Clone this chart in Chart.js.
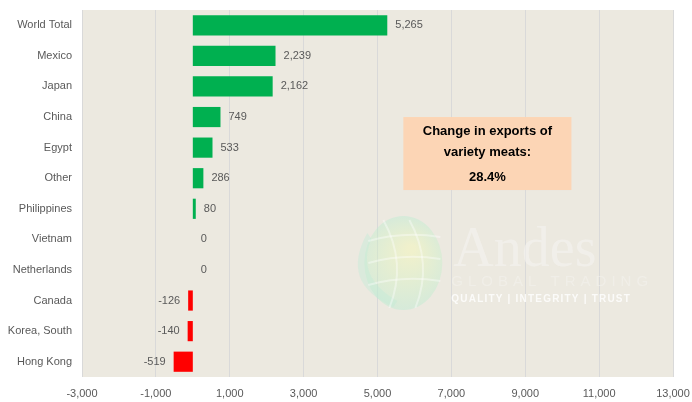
<!DOCTYPE html>
<html>
<head>
<meta charset="utf-8">
<script src="https://cdn.jsdelivr.net/npm/chart.js@4"></script>
<style>
  html, body { margin: 0; padding: 0; background: #fff; }
  #wrap { width: 692px; height: 402px; position: relative; }
</style>
</head>
<body>
<div id="wrap"><canvas id="chart"></canvas></div>
<script>
const CATEGORIES = [
  "World Total", "Mexico", "Japan", "China", "Egypt", "Other",
  "Philippines", "Vietnam", "Netherlands", "Canada", "Korea, South", "Hong Kong",
];
const CHANGE = [5265, 2239, 2162, 749, 533, 286, 80, 0, 0, -126, -140, -519];
const X_TICKS = [-3000, -1000, 1000, 3000, 5000, 7000, 9000, 11000, 13000];
const NOTE_LINES = ["Change in exports of", "variety meats:", "28.4%"];

const GREEN = "#00b050";
const RED = "#ff0000";
const TEXT = "#595959";
const FONT = "'Liberation Sans', Arial, sans-serif";
const NUM = new Intl.NumberFormat("en-US", { maximumFractionDigits: 0 });

const plotBg = {
  id: "plotBg",
  beforeDraw(chart) {
    const { ctx, chartArea: a } = chart;
    ctx.save();
    ctx.fillStyle = "#ece9e0";
    ctx.fillRect(a.left, a.top, a.right - a.left, a.bottom - a.top);
    ctx.restore();
  },
};

// faint company watermark, drawn over the grid and under the bars
const watermark = {
  id: "watermark",
  beforeDatasetsDraw(chart) {
    const { ctx } = chart;
    const x = chart.scales.x;
    const cx = x.getPixelForValue(5700);
    const cy = 263;
    const r = 39;
    ctx.save();
    ctx.globalAlpha = 0.4;
    const g = ctx.createRadialGradient(cx + 8, cy - 14, 4, cx, cy, r + 8);
    g.addColorStop(0, "#f6fcae");
    g.addColorStop(1, "#b4ecd0");
    ctx.fillStyle = g;
    ctx.beginPath();
    ctx.ellipse(cx, cy, r, r + 8, 0, 0, Math.PI * 2);
    ctx.fill();
    // swoosh on the left
    ctx.fillStyle = "#c0ecd6";
    ctx.beginPath();
    ctx.moveTo(cx - 36, cy - 30);
    ctx.quadraticCurveTo(cx - 64, cy + 20, cx - 10, cy + 44);
    ctx.lineTo(cx - 6, cy + 38);
    ctx.quadraticCurveTo(cx - 48, cy + 14, cx - 32, cy - 24);
    ctx.closePath();
    ctx.fill();
    ctx.strokeStyle = "rgba(255,255,255,0.95)";
    ctx.lineWidth = 2;
    for (const dy of [-22, 0, 22]) {
      ctx.beginPath();
      ctx.moveTo(cx - r + 4, cy + dy);
      ctx.quadraticCurveTo(cx, cy + dy - 10, cx + r - 2, cy + dy - 4);
      ctx.stroke();
    }
    for (const dx of [-14, 12]) {
      ctx.beginPath();
      ctx.moveTo(cx + dx - 6, cy - r - 4);
      ctx.quadraticCurveTo(cx + dx + 18, cy, cx + dx, cy + r + 6);
      ctx.stroke();
    }
    ctx.globalAlpha = 1;
    ctx.fillStyle = "rgba(245,244,240,0.6)";
    ctx.textBaseline = "alphabetic";
    ctx.textAlign = "left";
    ctx.font = "56px 'Liberation Serif', serif";
    ctx.fillText("Andes", cx + 50, 266);
    ctx.font = "15px 'Liberation Sans', sans-serif";
    ctx.letterSpacing = "5px";
    ctx.fillStyle = "rgba(243,242,237,0.6)";
    ctx.fillText("GLOBAL TRADING", cx + 48, 286);
    ctx.font = "bold 10px 'Liberation Sans', sans-serif";
    ctx.letterSpacing = "1.2px";
    ctx.fillStyle = "rgba(255,255,255,0.8)";
    ctx.fillText("QUALITY | INTEGRITY | TRUST", cx + 48, 302);
    ctx.restore();
  },
};

const valueLabels = {
  id: "valueLabels",
  afterDatasetsDraw(chart) {
    const { ctx } = chart;
    const meta = chart.getDatasetMeta(0);
    ctx.save();
    ctx.font = "11px " + FONT;
    ctx.fillStyle = TEXT;
    ctx.textBaseline = "middle";
    meta.data.forEach((bar, i) => {
      const v = CHANGE[i];
      if (v < 0) {
        ctx.textAlign = "right";
        ctx.fillText(NUM.format(v), bar.x - 8, bar.y);
      } else {
        ctx.textAlign = "left";
        ctx.fillText(NUM.format(v), bar.x + 8, bar.y);
      }
    });
    ctx.restore();
  },
};

const noteBox = {
  id: "noteBox",
  afterDraw(chart) {
    const { ctx } = chart;
    const x = chart.scales.x;
    const y = chart.scales.y;
    const left = x.getPixelForValue(5700);
    const right = x.getPixelForValue(10250);
    const top = y.getPixelForValue(3);
    const bottom = top + 73;
    ctx.save();
    ctx.fillStyle = "#fcd5b5";
    ctx.fillRect(left, top, right - left, bottom - top);
    ctx.fillStyle = "#000";
    ctx.font = "bold 13px " + FONT;
    ctx.textAlign = "center";
    ctx.textBaseline = "middle";
    const mid = (left + right) / 2;
    ctx.fillText(NOTE_LINES[0], mid, top + 14);
    ctx.fillText(NOTE_LINES[1], mid, top + 35);
    ctx.fillText(NOTE_LINES[2], mid, top + 60);
    ctx.restore();
  },
};

new Chart(document.getElementById("chart"), {
  type: "bar",
  data: {
    labels: CATEGORIES,
    datasets: [
      {
        data: CHANGE,
        backgroundColor: CHANGE.map((v) => (v < 0 ? RED : GREEN)),
        barPercentage: 0.66,
        categoryPercentage: 1,
      },
    ],
  },
  options: {
    indexAxis: "y",
    responsive: true,
    maintainAspectRatio: false,
    animation: false,
    layout: { padding: { top: 10, right: 19, left: 0, bottom: 0 } },
    plugins: { legend: { display: false }, tooltip: { enabled: false } },
    scales: {
      x: {
        min: -3000,
        max: 13000,
        afterBuildTicks: (s) => (s.ticks = X_TICKS.map((v) => ({ value: v }))),
        afterFit: (s) => {
          s.height = 25;
          s.paddingLeft = 0;
          s.paddingRight = 0;
        },
        grid: { color: "#d9d9d9", drawTicks: false },
        border: { display: false },
        ticks: {
          color: TEXT,
          font: { size: 11, family: FONT },
          padding: 10,
          maxRotation: 0,
          callback: (v) => NUM.format(v),
        },
      },
      y: {
        afterFit: (s) => {
          s.width = 82;
          s.paddingTop = 0;
          s.paddingBottom = 0;
        },
        grid: { display: false, drawTicks: false },
        border: { display: false },
        ticks: {
          color: TEXT,
          font: { size: 11, family: FONT },
          padding: 10,
        },
      },
    },
  },
  plugins: [plotBg, watermark, valueLabels, noteBox],
});
</script>
</body>
</html>
